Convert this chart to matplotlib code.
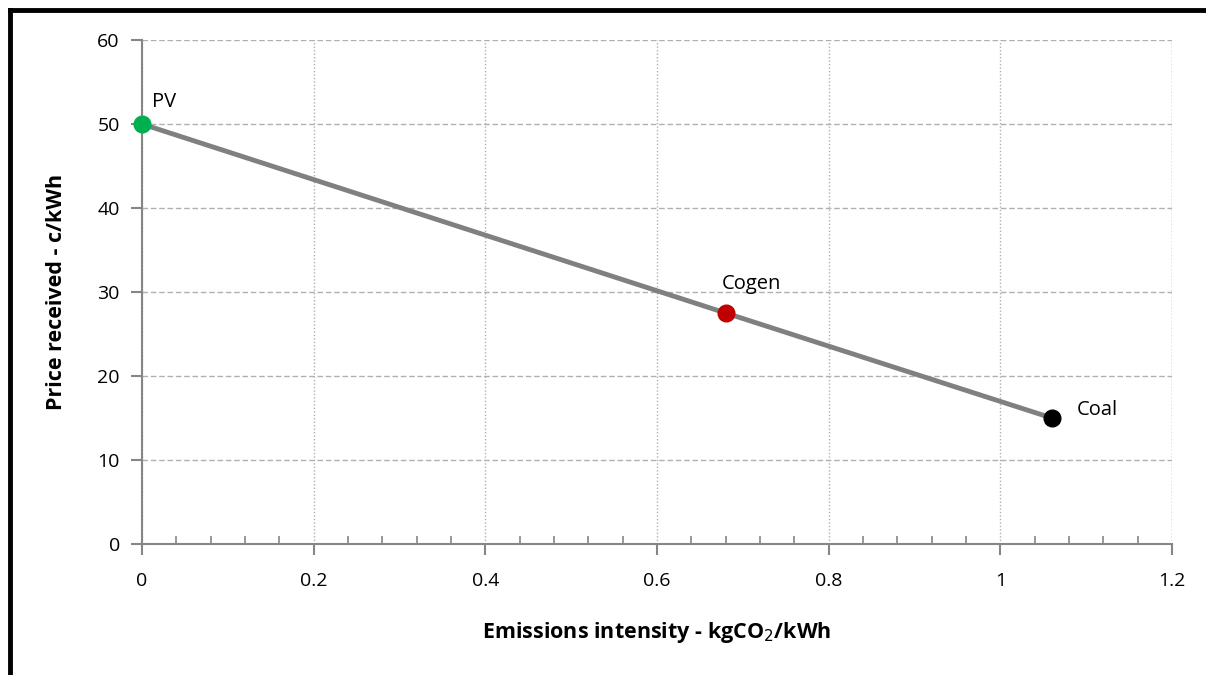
import matplotlib.pyplot as plt
from matplotlib.lines import Line2D
from matplotlib.ticker import MultipleLocator

plt.rcParams['font.family'] = ['Open Sans', 'DejaVu Sans']

# data
names = ['PV', 'Cogen', 'Coal']
emissions = [0.0, 0.68, 1.06]
price = [50, 27.5, 15]
colours = ['#00b050', '#c00000', '#000000']

fig = plt.figure(figsize=(12.06, 6.75), dpi=100)
ax = fig.add_axes([142/1206, 1 - 544/675, 1030/1206, 504/675])

ax.plot(emissions, price, color='#808080', lw=3.5, zorder=2)
for x, y, c in zip(emissions, price, colours):
    ax.plot(x, y, 'o', color=c, ms=12, zorder=3, clip_on=False)

# labels next to points
ax.annotate(names[0], (emissions[0], price[0]), xytext=(7, 12), textcoords='offset points', fontsize=14.5)
ax.annotate(names[1], (emissions[1], price[1]), xytext=(-3, 17), textcoords='offset points', fontsize=14.5)
ax.annotate(names[2], (emissions[2], price[2]), xytext=(18, 2), textcoords='offset points', fontsize=14.5)

ax.set_xlim(0, 1.2)
ax.set_ylim(0, 60)
ax.xaxis.set_major_locator(MultipleLocator(0.2))
ax.xaxis.set_minor_locator(MultipleLocator(0.04))
ax.yaxis.set_major_locator(MultipleLocator(10))
ax.xaxis.set_major_formatter(plt.FuncFormatter(lambda v, p: ('%g' % round(v, 2))))

ax.grid(axis='y', color='#b0b0b0', ls=(0, (4, 2)), lw=1)
ax.grid(axis='x', color='#b0b0b0', ls=(0, (1, 1.5)), lw=1)
ax.axvline(1.2, color='#b0b0b0', ls=(0, (1, 1.5)), lw=1, zorder=1)

for s in ['top', 'right']:
    ax.spines[s].set_visible(False)
for s in ['left', 'bottom']:
    ax.spines[s].set_color('#868686')
    ax.spines[s].set_linewidth(1.5)

ax.tick_params(axis='both', which='major', labelsize=14, color='#868686', width=1.5, length=8, pad=8)
ax.tick_params(axis='x', which='major', direction='out', pad=12)
ax.tick_params(axis='x', which='minor', direction='in', length=6, width=1.2, color='#868686')
ax.tick_params(axis='y', which='major', direction='out')

ax.set_xlabel('Emissions intensity - kgCO$_2$/kWh', fontsize=15.5, fontweight='bold', labelpad=22)
ax.set_ylabel('Price received - c/kWh', fontsize=15.5, fontweight='bold', labelpad=22)

# partial black frame (left and top) like the reference
fig.add_artist(Line2D([10/1206, 10/1206], [0, 1 - 10/675], transform=fig.transFigure, color='black', lw=3.5))
fig.add_artist(Line2D([10/1206, 1], [1 - 10/675, 1 - 10/675], transform=fig.transFigure, color='black', lw=3.5))

fig.savefig('out.png', dpi=100)
